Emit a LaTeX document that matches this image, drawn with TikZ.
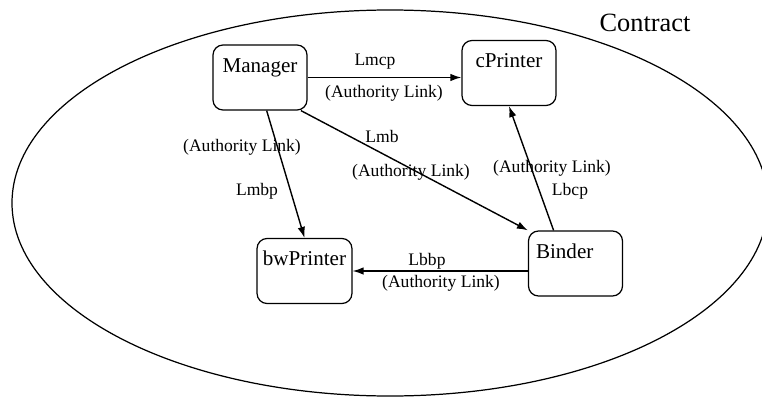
\documentclass[tikz,border=0pt]{standalone}
\usepackage{fontspec}
\setmainfont{Liberation Serif}
\usetikzlibrary{arrows.meta}
\usetikzlibrary{calc}

\begin{document}
\begin{tikzpicture}[agent/.style = {draw, rounded corners=0.2cm, line width=0.7pt, minimum width=1.88cm, inner ysep=0pt, text height=0.54cm, text depth=0.76cm, font=\fontsize{12}{14}\selectfont},
		lbl/.style = {font=\fontsize{10}{12}\selectfont, inner sep=1pt},
		link/.style = {line width=0.8pt, -{Latex[length=2.2mm,width=1.5mm]}}]
				\useasboundingbox (0,0) rectangle (15.24,7.96);
				\draw[line width=0.7pt] (7.8,3.9) ellipse [x radius=7.56cm, y radius=3.86cm];
				\node[font=\fontsize{15}{18}\selectfont] (contract) at (12.9,7.5) {Contract};
				\begin{scope}[every node/.style={agent}]
					\node (mgr) at (5.20,6.41) {Manager};
					\node (cpr) at (10.18,6.50) {cPrinter};
					\node (bw) at (6.09,2.54) {bwPrinter};
					\node[text width=1.58cm, align=left] (bnd) at (11.51,2.69) {Binder};
				\end{scope}
				\begin{scope}[every node/.style={lbl}]
					\node (lmcp) at (7.50,6.72) {Lmcp};
					\node (almcp) at (7.68,6.10) {(Authority Link)};
					\node (almbp) at (4.84,5.02) {(Authority Link)};
					\node (lmbp) at (5.14,4.14) {Lmbp};
					\node (lmb) at (7.64,5.24) {Lmb};
					\node (almb) at (8.22,4.52) {(Authority Link)};
					\node (albcp) at (11.04,4.60) {(Authority Link)};
					\node (lbcp) at (11.40,4.14) {Lbcp};
					\node (lbbp) at (8.54,2.74) {Lbbp};
					\node (albbp) at (8.82,2.30) {(Authority Link)};
				\end{scope}
				\draw [link] (mgr.east) -- (mgr.east -| cpr.west);
				\draw [link] ($(mgr.south west)!0.57!(mgr.south east)$) -- (bw.north);
				\draw [link] ($(mgr.south west)!0.93!(mgr.south east)$) -- (bnd.north west);
				\draw [link] ($(bnd.north west)!0.27!(bnd.north east)$) -- (cpr.south);
				\draw [link] (bw.east -| bnd.west) -- (bw.east);
			\end{tikzpicture}
\end{document}
